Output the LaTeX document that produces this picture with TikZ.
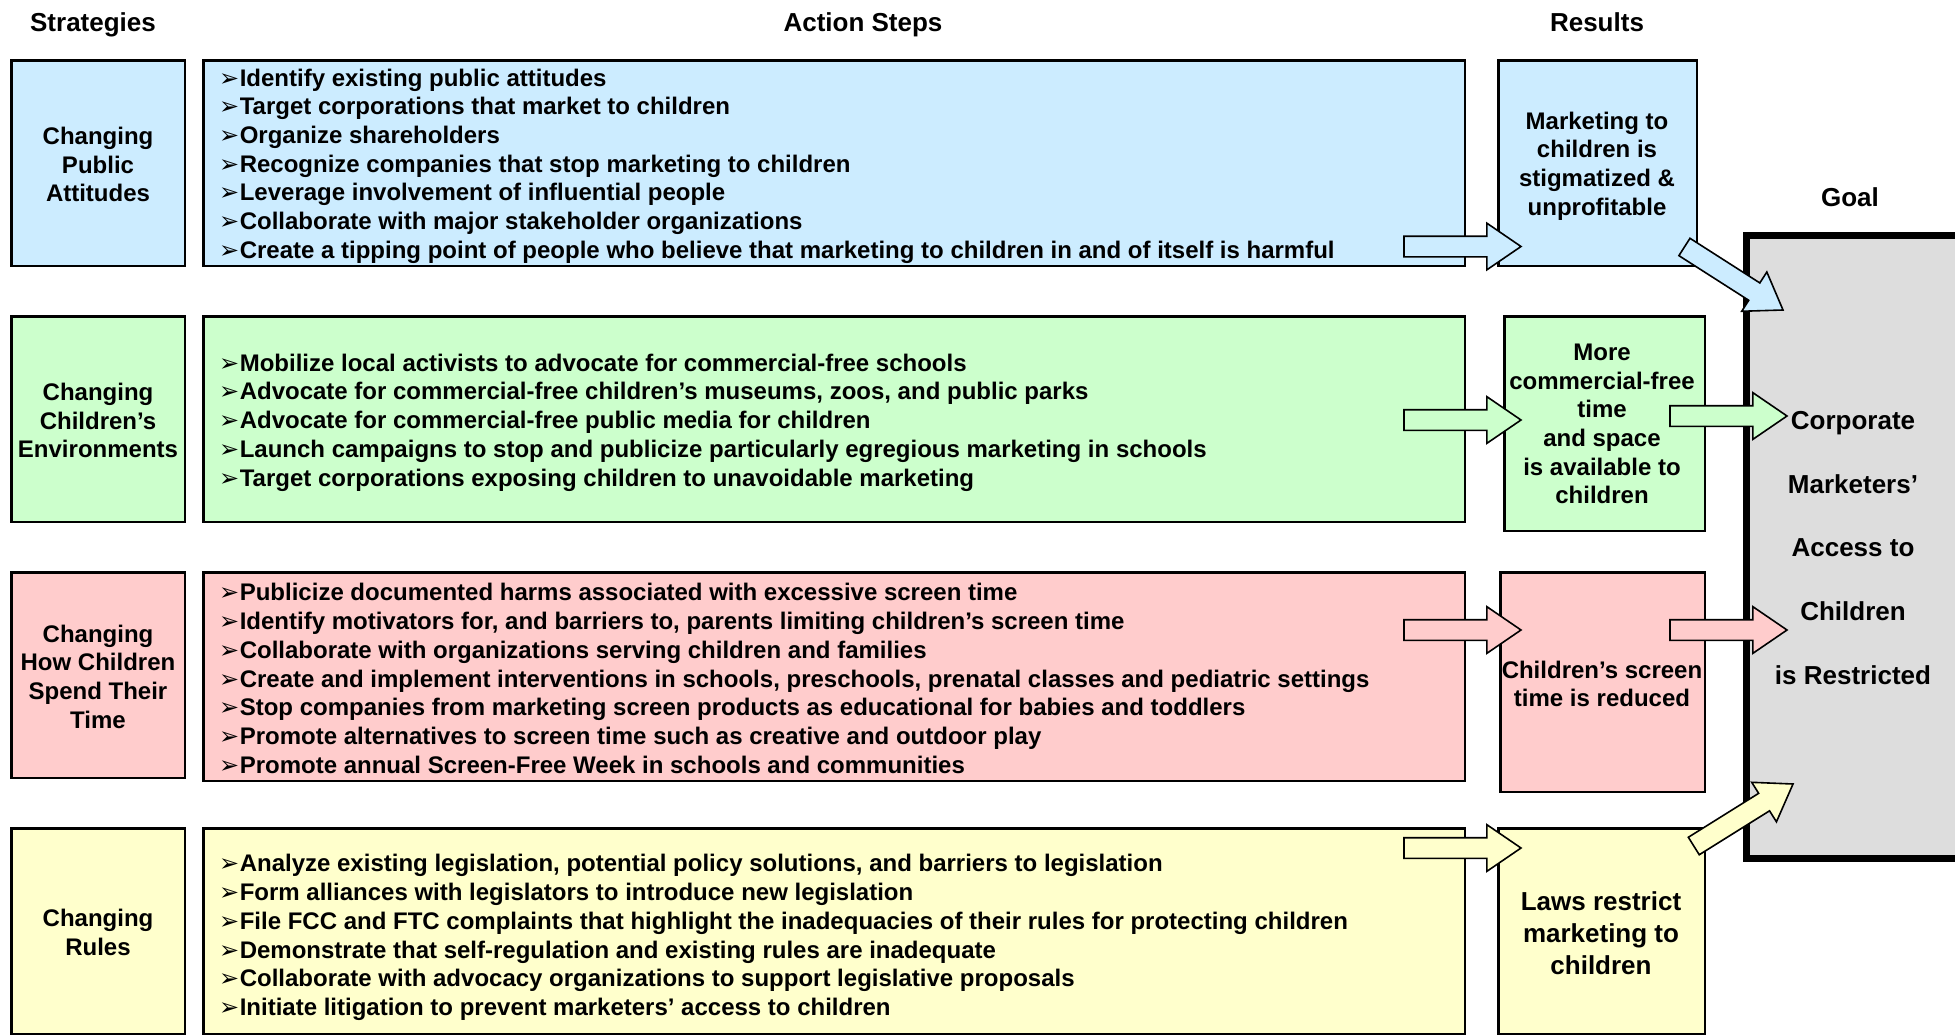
\documentclass[tikz,border=0pt]{standalone}
\usepackage{fontspec}
\setmainfont{Liberation Sans}
\newfontfamily\dingfont{DejaVu Sans}
\usetikzlibrary{shapes.arrows}
\definecolor{cblue}{HTML}{CCECFF}
\definecolor{cgreen}{HTML}{CCFFCC}
\definecolor{cpink}{HTML}{FFCCCC}
\definecolor{cyellow}{HTML}{FFFFCC}
\definecolor{cgray}{HTML}{DDDDDD}
\newcommand{\bul}{{\dingfont\fontsize{24}{28}\selectfont ➢}\hspace{0.5pt}}
\tikzset{
  box/.style={draw=black, line width=2.5pt, inner sep=0pt, outer sep=0pt},
  txt/.style={font=\bfseries\fontsize{24}{28.7}\selectfont, align=center, inner sep=0pt},
  steps/.style={font=\bfseries\fontsize{24}{28.7}\selectfont, align=left, inner sep=0pt, anchor=west},
  head/.style={font=\bfseries\fontsize{26}{31}\selectfont, inner sep=0pt, anchor=base},
  blockarrow/.style={single arrow, draw=black, line width=1.6pt, minimum height=117pt,
     minimum width=41pt, single arrow head extend=13pt, single arrow tip angle=68.7,
     inner xsep=0pt, inner ysep=9.5pt, outer sep=0pt, anchor=tip}
}
\begin{document}
\begin{tikzpicture}[x=1pt,y=-1pt]
\useasboundingbox (0,0) rectangle (1955,1036);

% headers
\node[head] (hs) at (93,31) {Strategies};
\node[head] (ha) at (863,31) {Action Steps};
\node[head] (hr) at (1597,31) {Results};
\node[head] (hg) at (1850,206) {Goal};

% goal box
\node[box, line width=7pt, fill=cgray, minimum width=218.5pt, minimum height=623pt] (goal) at (1855.75,547) {};
\node[font=\bfseries\fontsize{26}{63.6}\selectfont, align=center, inner sep=0pt] (goaltext) at (1853,548)
  {Corporate\\Marketers’\\Access to\\Children\\is Restricted};

% strategy boxes
\node[box, fill=cblue,   minimum width=173.5pt, minimum height=205.5pt] (s1) at (98,163) {};
\node[box, fill=cgreen,  minimum width=173.5pt, minimum height=205.5pt] (s2) at (98,419) {};
\node[box, fill=cpink,   minimum width=173.5pt, minimum height=205.5pt] (s3) at (98,675) {};
\node[box, fill=cyellow, minimum width=173.5pt, minimum height=205.5pt] (s4) at (98,931) {};
\node[txt] (s1t) at (98,164.5) {Changing\\Public\\Attitudes};
\node[txt] (s2t) at (98,420.5) {Changing\\Children’s\\Environments};
\node[txt] (s3t) at (98,676.5) {Changing\\How Children\\Spend Their\\Time};
\node[txt] (s4t) at (98,932.5) {Changing\\Rules};

% action boxes
\node[box, fill=cblue,   minimum width=1261.5pt, minimum height=205.5pt] (a1) at (834,163) {};
\node[box, fill=cgreen,  minimum width=1261.5pt, minimum height=205.5pt] (a2) at (834,419) {};
\node[box, fill=cpink,   minimum width=1261.5pt, minimum height=208.5pt] (a3) at (834,676.5) {};
\node[box, fill=cyellow, minimum width=1261.5pt, minimum height=205.5pt] (a4) at (834,931) {};

\node[steps] (a1t) at (219,166) {\bul Identify existing public attitudes\\
\bul Target corporations that market to children\\
\bul Organize shareholders\\
\bul Recognize companies that stop marketing to children\\
\bul Leverage involvement of influential people\\
\bul Collaborate with major stakeholder organizations\\
\bul Create a tipping point of people who believe that marketing to children in and of itself is harmful};

\node[steps] (a2t) at (219,422.5) {\bul Mobilize local activists to advocate for commercial-free schools\\
\bul Advocate for commercial-free children’s museums, zoos, and public parks\\
\bul Advocate for commercial-free public media for children\\
\bul Launch campaigns to stop and publicize particularly egregious marketing in schools\\
\bul Target corporations exposing children to unavoidable marketing};

\node[steps] (a3t) at (219,678.5) {\bul Publicize documented harms associated with excessive screen time\\
\bul Identify motivators for, and barriers to, parents limiting children’s screen time\\
\bul Collaborate with organizations serving children and families\\
\bul Create and implement interventions in schools, preschools, prenatal classes and pediatric settings\\
\bul Stop companies from marketing screen products as educational for babies and toddlers\\
\bul Promote alternatives to screen time such as creative and outdoor play\\
\bul Promote annual Screen-Free Week in schools and communities};

\node[steps] (a4t) at (219,937.5) {\bul Analyze existing legislation, potential policy solutions, and barriers to legislation\\
\bul Form alliances with legislators to introduce new legislation\\
\bul File FCC and FTC complaints that highlight the inadequacies of their rules for protecting children\\
\bul Demonstrate that self-regulation and existing rules are inadequate\\
\bul Collaborate with advocacy organizations to support legislative proposals\\
\bul Initiate litigation to prevent marketers’ access to children};

% results boxes
\node[box, fill=cblue,   minimum width=198.5pt, minimum height=205.5pt] (r1) at (1597.5,163) {};
\node[box, fill=cgreen,  minimum width=200.5pt, minimum height=214.5pt] (r2) at (1604.5,423.5) {};
\node[box, fill=cpink,   minimum width=204.5pt, minimum height=219.5pt] (r3) at (1602.5,682) {};
\node[box, fill=cyellow, minimum width=206.5pt, minimum height=205.5pt] (r4) at (1601.5,931) {};
\node[txt] (r1t) at (1597,166) {Marketing to\\children is\\stigmatized \&\\unprofitable};
\node[txt] (r2t) at (1602,424) {More\\commercial-free\\time\\and space\\is available to\\children};
\node[txt] (r3t) at (1602,684) {Children’s screen\\time is reduced};
\node[txt, font=\bfseries\fontsize{26}{32}\selectfont] (r4t) at (1601,933) {Laws restrict\\marketing to\\children};

% block arrows (placed by their tips)
\node[blockarrow, fill=cblue]   (ar1) at (1521,246.5) {};
\node[blockarrow, fill=cgreen]  (ar2) at (1521,420) {};
\node[blockarrow, fill=cpink]   (ar3) at (1521,630) {};
\node[blockarrow, fill=cyellow] (ar4) at (1521,848) {};
\node[blockarrow, fill=cgreen]  (ag2) at (1787,416) {};
\node[blockarrow, fill=cpink]   (ag3) at (1787,630) {};
\node[blockarrow, fill=cblue,   rotate=-32.6] (ag1) at (1783,310) {};
\node[blockarrow, fill=cyellow, rotate=32]    (ag4) at (1793,784) {};
\end{tikzpicture}
\end{document}
